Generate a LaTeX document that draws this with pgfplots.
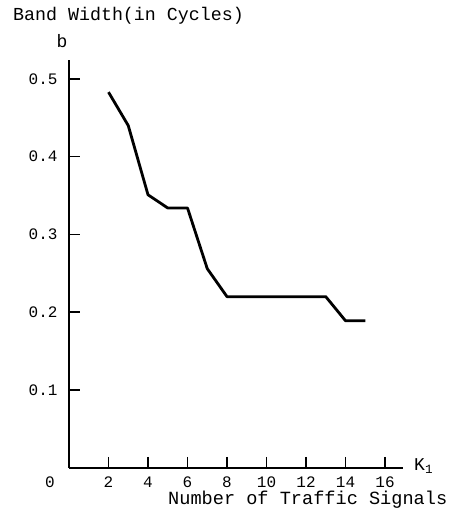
\documentclass[border=0pt]{standalone}
\usepackage{fontspec}
\setmainfont{Liberation Mono}
\usepackage{pgfplots}
\pgfplotsset{compat=1.18}

\begin{document}
\begin{tikzpicture}
\begin{axis}[
    at={(0pt,0pt)}, anchor=origin,
    scale only axis,
    width=333.8pt, height=407.5pt,
    xmin=0, xmax=16.9,
    ymin=0, ymax=0.524,
    axis x line=bottom, axis y line=left,
    axis line style={-, line width=1.5pt},
    clip=false,
    xtick={2,4,...,16},
    ytick={0.1,0.2,0.3,0.4,0.5},
    tick align=outside,
    major tick length=-11pt, % negative: ticks point into the plot
    every tick/.style={black, line width=1.5pt},
    /pgf/number format/assume math mode=true,
    ticklabel style={font=\fontsize{16}{19}\selectfont},
    xticklabel style={anchor=base, yshift=-31pt},
    yticklabel style={anchor=east, xshift=-19pt,
        /pgf/number format/fixed, /pgf/number format/fixed zerofill,
        /pgf/number format/precision=1},
]
\addplot[black, line width=2.8pt, line join=round] coordinates {
    (2,0.483) (3,0.440) (4,0.351) (5,0.334) (6,0.334) (7,0.256)
    (8,0.220) (9,0.220) (10,0.220) (11,0.220) (12,0.220) (13,0.220)
    (14,0.189) (15,0.189)
};
\node[anchor=base, xshift=-19pt, yshift=-20pt, font=\fontsize{16}{19}\selectfont] at (axis cs:0,0) {0};
\end{axis}
\node[anchor=base west, font=\fontsize{18.3}{21}\selectfont, inner sep=0pt] at (-56pt,446.75pt) {Band Width(in Cycles)};
\node[anchor=base, font=\fontsize{18}{21}\selectfont, inner sep=0pt] at (-7pt,419.75pt) {b};
\node[anchor=base west, font=\fontsize{18}{21}\selectfont, inner sep=0pt] at (345pt,-3pt) {K\textsubscript{1}};
\node[anchor=base west, font=\fontsize{18.6}{22}\selectfont, inner sep=0pt] at (99pt,-37.25pt) {Number of Traffic Signals};
% page frame
\path[use as bounding box] (-69pt,-46.25pt) rectangle (382pt,467.75pt);
\end{tikzpicture}
\end{document}
